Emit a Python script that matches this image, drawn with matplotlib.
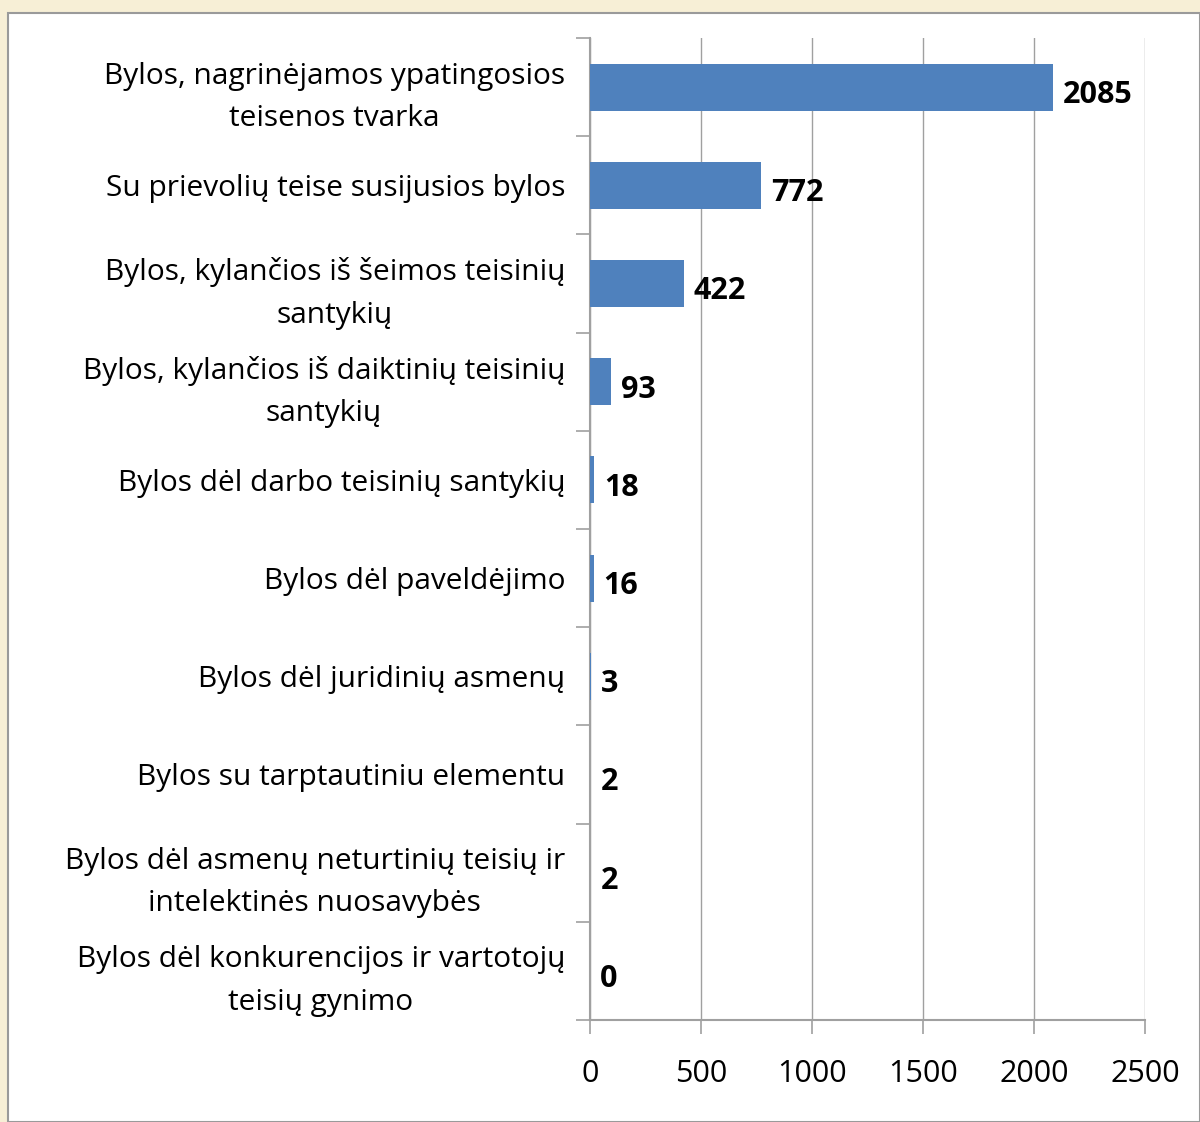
import matplotlib
matplotlib.use("Agg")
import matplotlib.pyplot as plt
from matplotlib.patches import Rectangle
import numpy as np

categories = [
    "Bylos, nagrinėjamos ypatingosios\nteisenos tvarka",
    "Su prievolių teise susijusios bylos",
    "Bylos, kylančios iš šeimos teisinių\nsantykių",
    "Bylos, kylančios iš daiktinių teisinių\nsantykių",
    "Bylos dėl darbo teisinių santykių",
    "Bylos dėl paveldėjimo",
    "Bylos dėl juridinių asmenų",
    "Bylos su tarptautiniu elementu",
    "Bylos dėl asmenų neturtinių teisių ir\nintelektinės nuosavybės",
    "Bylos dėl konkurencijos ir vartotojų\nteisių gynimo",
]
values = [2085, 772, 422, 93, 18, 16, 3, 2, 2, 0]
xticks = [0, 500, 1000, 1500, 2000, 2500]

plt.rcParams['font.family'] = ['Open Sans', 'DejaVu Sans']

W, H = 1200, 1122
fig = plt.figure(figsize=(W / 100, H / 100), dpi=100)
fig.patch.set_facecolor('#F7EFD6')
fig.patches.append(Rectangle((8 / W, 0), 1 - 8 / W, (H - 13) / H, transform=fig.transFigure,
                             facecolor='white', edgecolor='#9A9A9A', linewidth=1.5, zorder=-10))

ax = fig.add_axes([590 / W, 1 - 1020 / H, (1145 - 590) / W, (1020 - 38) / H])
ax.set_facecolor('none')
n = len(categories)
y = np.arange(n)
ax.barh(y, values, height=0.48, color='#4F81BD', zorder=3)
ax.set_ylim(n - 0.5, -0.5)
ax.set_xlim(0, 2500)
ax.set_xticks(xticks)
ax.set_xticklabels([str(t) for t in xticks], fontsize=22)
ax.set_yticks(y)
ax.set_yticklabels(categories, fontsize=21.5, multialignment='center', linespacing=1.6)
ax.tick_params(axis='y', length=0, pad=18)
ax.set_yticks(np.arange(-0.5, n, 1), minor=True)
ax.tick_params(axis='y', which='minor', length=10, color='#A0A0A0', width=1.2)
ax.tick_params(axis='x', length=10, color='#A0A0A0', width=1.2, pad=18)
ax.grid(axis='x', color='#A0A0A0', linewidth=1.0, zorder=0)
for s in ['top', 'right']:
    ax.spines[s].set_visible(False)
for s in ['left', 'bottom']:
    ax.spines[s].set_color('#A0A0A0')
    ax.spines[s].set_linewidth(1.5)
for yi, v in zip(y, values):
    ax.text(v + 45, yi + 0.08, str(v), va='center', ha='left', fontsize=22, fontweight='bold', zorder=4)

fig.savefig('out.png', dpi=100, facecolor=fig.get_facecolor())
